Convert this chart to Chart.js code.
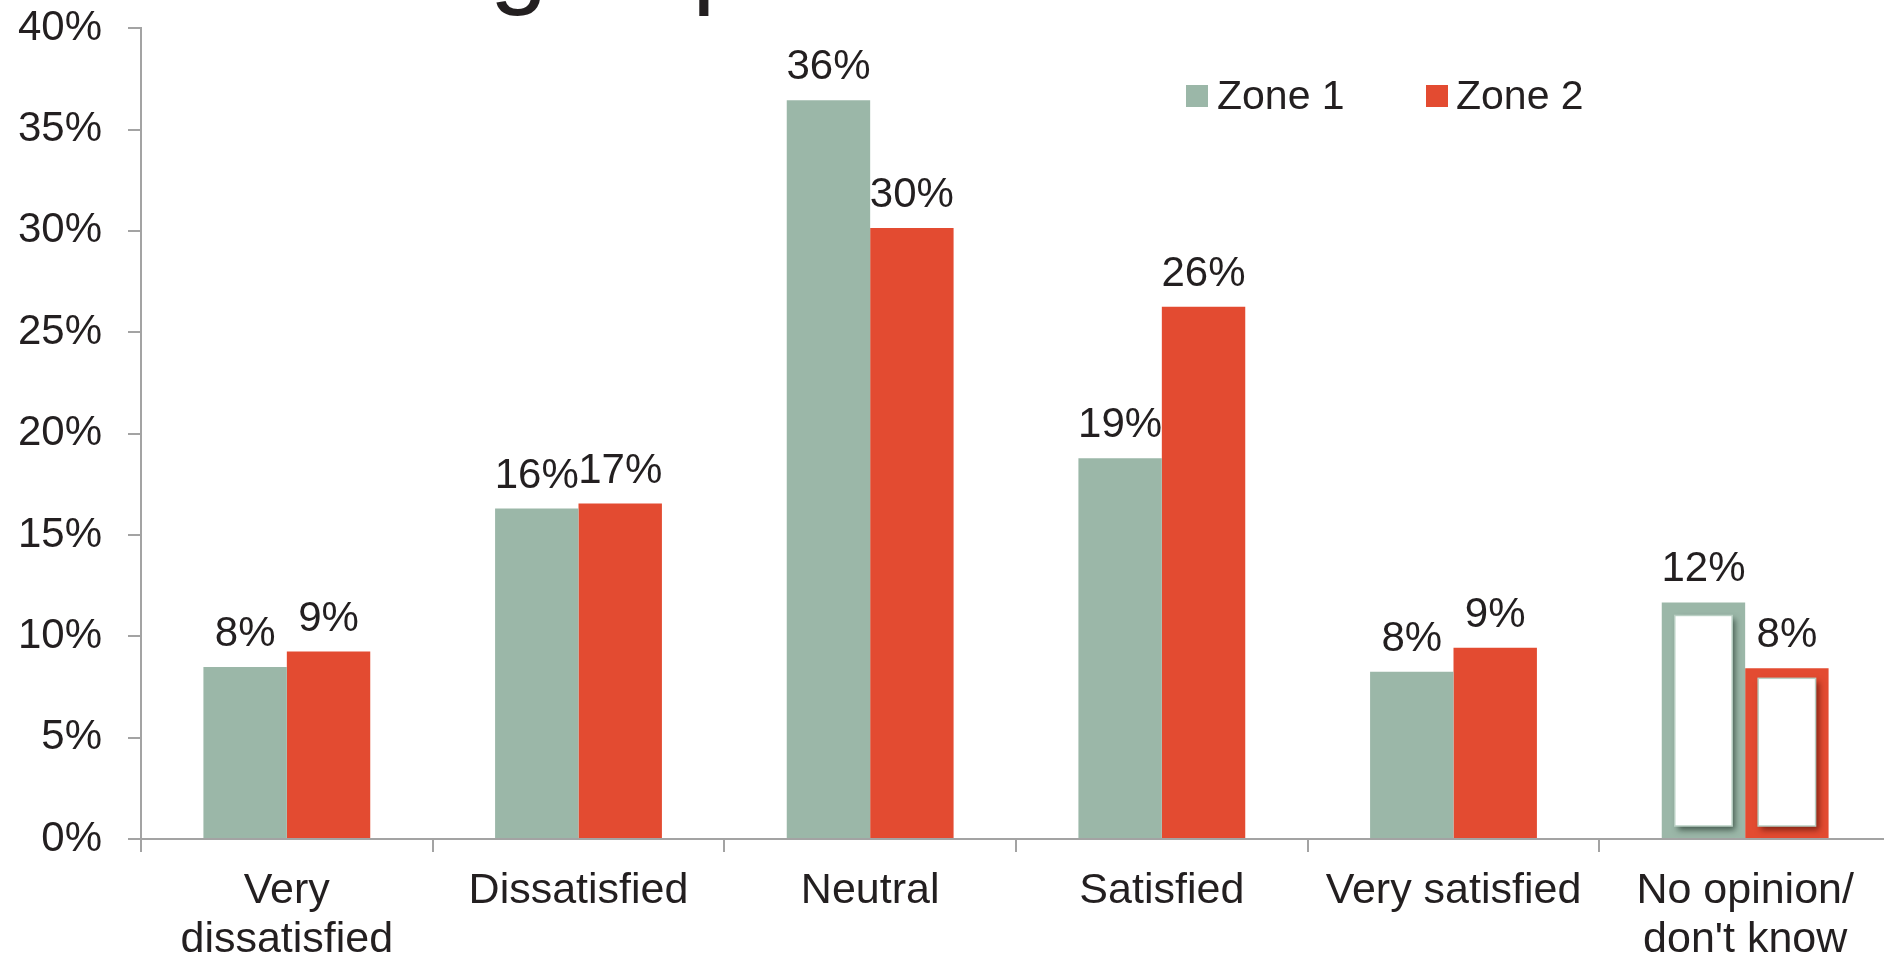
<!DOCTYPE html>
<html>
<head>
<meta charset="utf-8">
<script src="https://cdn.jsdelivr.net/npm/chart.js@4/dist/chart.umd.min.js"></script>
<style>
  html, body { margin: 0; padding: 0; background: #ffffff; overflow: hidden; }
  #wrap { position: relative; width: 1884px; height: 957px; overflow: hidden; background: #fff; }
  #chart { position: absolute; left: 0; top: -23px; }
  .title { position: absolute; left: 247px; top: -94px; font: 104px/104px "Liberation Sans", Arial, sans-serif; color: #231F20; white-space: nowrap; }
  .lg-box { position: absolute; width: 22px; height: 22px; top: 85px; }
  .lg-txt { position: absolute; top: 75px; font: 41px/41px "Liberation Sans", Arial, sans-serif; color: #231F20; white-space: nowrap; }
</style>
</head>
<body>
<div id="wrap">
  <canvas id="chart" width="1891" height="980"></canvas>
  <div class="title">Rating of public services</div>
  <div class="lg-box" style="left:1186px; background:#9BB7A8;"></div>
  <div class="lg-txt" style="left:1217px;">Zone 1</div>
  <div class="lg-box" style="left:1426px; background:#E34B31;"></div>
  <div class="lg-txt" style="left:1456px;">Zone 2</div>
</div>
<script>
// ---- data ----
const categories = [["Very", "dissatisfied"], "Dissatisfied", "Neutral", "Satisfied", "Very satisfied", ["No opinion/", "don't know"]];
const seriesNames = ["Zone 1", "Zone 2"];
const zone1 = [8.48, 16.3, 36.45, 18.78, 8.25, 11.67];
const zone2 = [9.25, 16.55, 30.14, 26.26, 9.43, 8.42];
const yTicks = [0, 5, 10, 15, 20, 25, 30, 35, 40];

// ---- style ----
const FONT = '"Liberation Sans", Arial, sans-serif';
const TEXT = '#231F20';
const AXIS = '#A3A3A3';
const colors = ['#9BB7A8', '#E34B31'];

const dataLabels = {
  id: 'dataLabels',
  afterDatasetsDraw(chart) {
    const ctx = chart.ctx;
    ctx.save();
    ctx.font = '42px ' + FONT;
    ctx.fillStyle = TEXT;
    ctx.textAlign = 'center';
    ctx.textBaseline = 'alphabetic';
    chart.data.datasets.forEach((ds, di) => {
      const meta = chart.getDatasetMeta(di);
      meta.data.forEach((bar, i) => {
        ctx.fillText(Math.round(ds.data[i]) + '%', bar.x, bar.y - 21);
      });
    });
    ctx.restore();
  }
};

// inner white panels on the last category's bars
const insetPanels = {
  id: 'insetPanels',
  afterDatasetsDraw(chart) {
    const ctx = chart.ctx;
    const last = categories.length - 1;
    const topInset = [13, 10];
    const shadows = ['rgba(40,60,50,0.75)', 'rgba(90,20,10,0.7)'];
    chart.data.datasets.forEach((ds, di) => {
      const bar = chart.getDatasetMeta(di).data[last];
      if (!bar) return;
      const p = bar.getProps(['x', 'y', 'base', 'width'], true);
      const l = p.x - p.width / 2 + 13;
      const r = p.x + p.width / 2 - 13;
      const t = p.y + topInset[di];
      const b = p.base - 12;
      ctx.save();
      ctx.shadowColor = shadows[di];
      ctx.shadowBlur = 6;
      ctx.shadowOffsetX = 3;
      ctx.shadowOffsetY = 4;
      ctx.fillStyle = '#ffffff';
      ctx.fillRect(l, t, r - l, b - t);
      ctx.restore();
      ctx.save();
      ctx.strokeStyle = '#B9CFC3';
      ctx.lineWidth = 1.5;
      ctx.strokeRect(l, t, r - l, b - t);
      ctx.restore();
    });
  }
};

new Chart(document.getElementById('chart'), {
  type: 'bar',
  data: {
    labels: categories,
    datasets: [
      { label: seriesNames[0], data: zone1, backgroundColor: colors[0], borderWidth: 0 },
      { label: seriesNames[1], data: zone2, backgroundColor: colors[1], borderWidth: 0 }
    ]
  },
  options: {
    responsive: false,
    devicePixelRatio: 1,
    animation: false,
    layout: { autoPadding: false, padding: { top: 4, left: 0, right: 0, bottom: 0 } },
    plugins: { legend: { display: false }, tooltip: { enabled: false }, title: { display: false } },
    datasets: { bar: { categoryPercentage: 0.572, barPercentage: 1.0 } },
    scales: {
      x: {
        offset: true,
        grid: { drawOnChartArea: false, drawTicks: true, tickLength: 13, color: AXIS, lineWidth: 2, offset: true },
        border: { display: true, color: AXIS, width: 2 },
        ticks: { color: TEXT, font: { family: FONT, size: 43, lineHeight: 1.14 }, padding: 15, maxRotation: 0, autoSkip: false },
        afterFit(s) { s.height = 118; }
      },
      y: {
        min: 0, max: 40,
        afterBuildTicks(s) { s.ticks = yTicks.map(v => ({ value: v })); },
        grid: { drawOnChartArea: false, drawTicks: true, tickLength: 13, color: AXIS, lineWidth: 2 },
        border: { display: true, color: AXIS, width: 2 },
        ticks: { color: TEXT, font: { family: FONT, size: 42 }, padding: 26, callback: v => v + '%' },
        afterFit(s) { s.width = 141; }
      }
    }
  },
  plugins: [dataLabels, insetPanels]
});
</script>
</body>
</html>
